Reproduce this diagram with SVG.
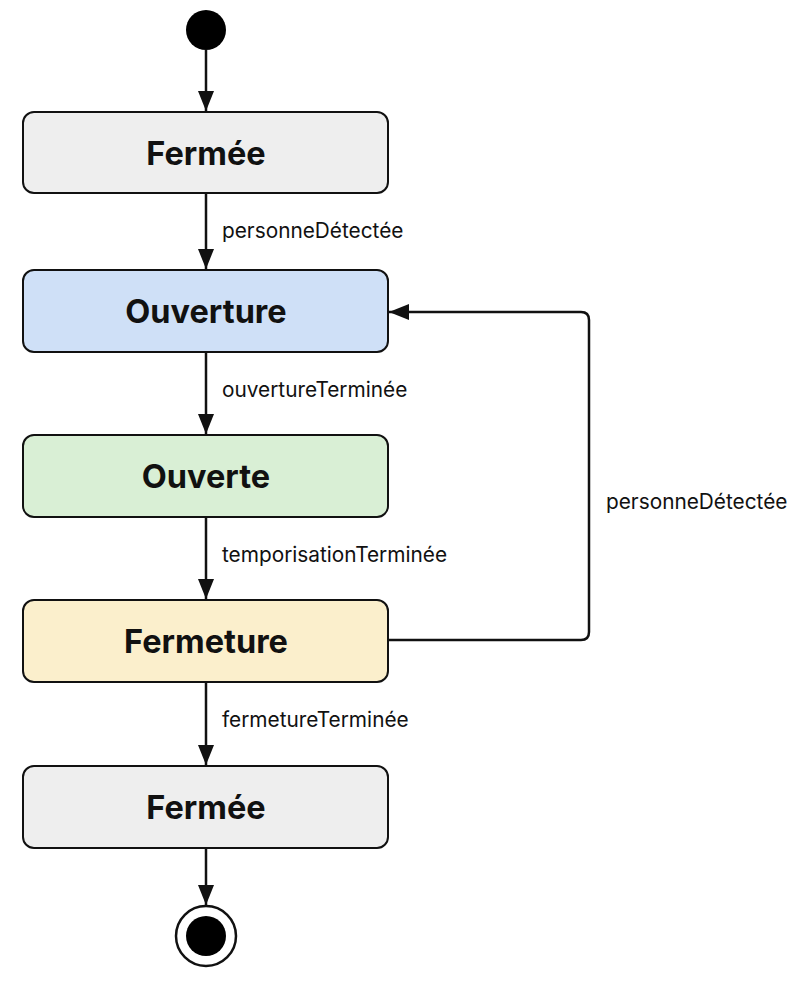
<svg xmlns="http://www.w3.org/2000/svg" width="800" height="984" viewBox="0 0 800 984">
<style>
.box{stroke:#111;stroke-width:2}
.t{font-family:Inter,"Noto Sans",sans-serif;font-weight:700;font-size:32.5px;fill:#111;text-anchor:middle;dominant-baseline:central}
.l{font-family:Inter,"Noto Sans",sans-serif;font-size:20.8px;fill:#111}
.c{fill:none;stroke:#111;stroke-width:2.5}
</style>
<defs>
<marker id="ah2" viewBox="0 0 20 16" refX="20" refY="8" markerWidth="20" markerHeight="16" markerUnits="userSpaceOnUse" orient="auto">
<path d="M0,0 L20,8 L0,16 z" fill="#111"/>
</marker>
</defs>
<rect width="800" height="984" fill="#fff"/>
<g id="connectors">
<path class="c" d="M206,50 V111" marker-end="url(#ah2)"/>
<path class="c" d="M206,193 V269" marker-end="url(#ah2)"/>
<path class="c" d="M206,352 V434" marker-end="url(#ah2)"/>
<path class="c" d="M206,517 V599" marker-end="url(#ah2)"/>
<path class="c" d="M206,682 V765" marker-end="url(#ah2)"/>
<path class="c" d="M206,848 V905" marker-end="url(#ah2)"/>
<path class="c" d="M388,640 H581 Q589,640 589,632 V320 Q589,312 581,312 H389" marker-end="url(#ah2)"/>
<text class="l" x="222" y="238">personneDétectée</text>
<text class="l" x="222" y="397">ouvertureTerminée</text>
<text class="l" x="222" y="562">temporisationTerminée</text>
<text class="l" x="222" y="727">fermetureTerminée</text>
<text class="l" x="606" y="509">personneDétectée</text>
</g>
<g id="initial"><circle cx="206" cy="30" r="20" fill="#000"/></g>
<g id="ferme1"><rect class="box" x="23" y="112" width="365" height="81" rx="11" fill="#eeeeee"/><text class="t" x="206" y="153">Fermée</text></g>
<g id="ouverture"><rect class="box" x="23" y="270" width="365" height="82" rx="11" fill="#cfe0f7"/><text class="t" x="206" y="311">Ouverture</text></g>
<g id="ouverte"><rect class="box" x="23" y="435" width="365" height="82" rx="11" fill="#d9efd5"/><text class="t" x="206" y="476">Ouverte</text></g>
<g id="fermeture"><rect class="box" x="23" y="600" width="365" height="82" rx="11" fill="#fbefcc"/><text class="t" x="206" y="641">Fermeture</text></g>
<g id="ferme2"><rect class="box" x="23" y="766" width="365" height="82" rx="11" fill="#eeeeee"/><text class="t" x="206" y="807">Fermée</text></g>
<g id="final"><circle cx="206" cy="936" r="30" fill="#fff" stroke="#111" stroke-width="2.5"/><circle cx="206" cy="936" r="20" fill="#000"/></g>
</svg>
